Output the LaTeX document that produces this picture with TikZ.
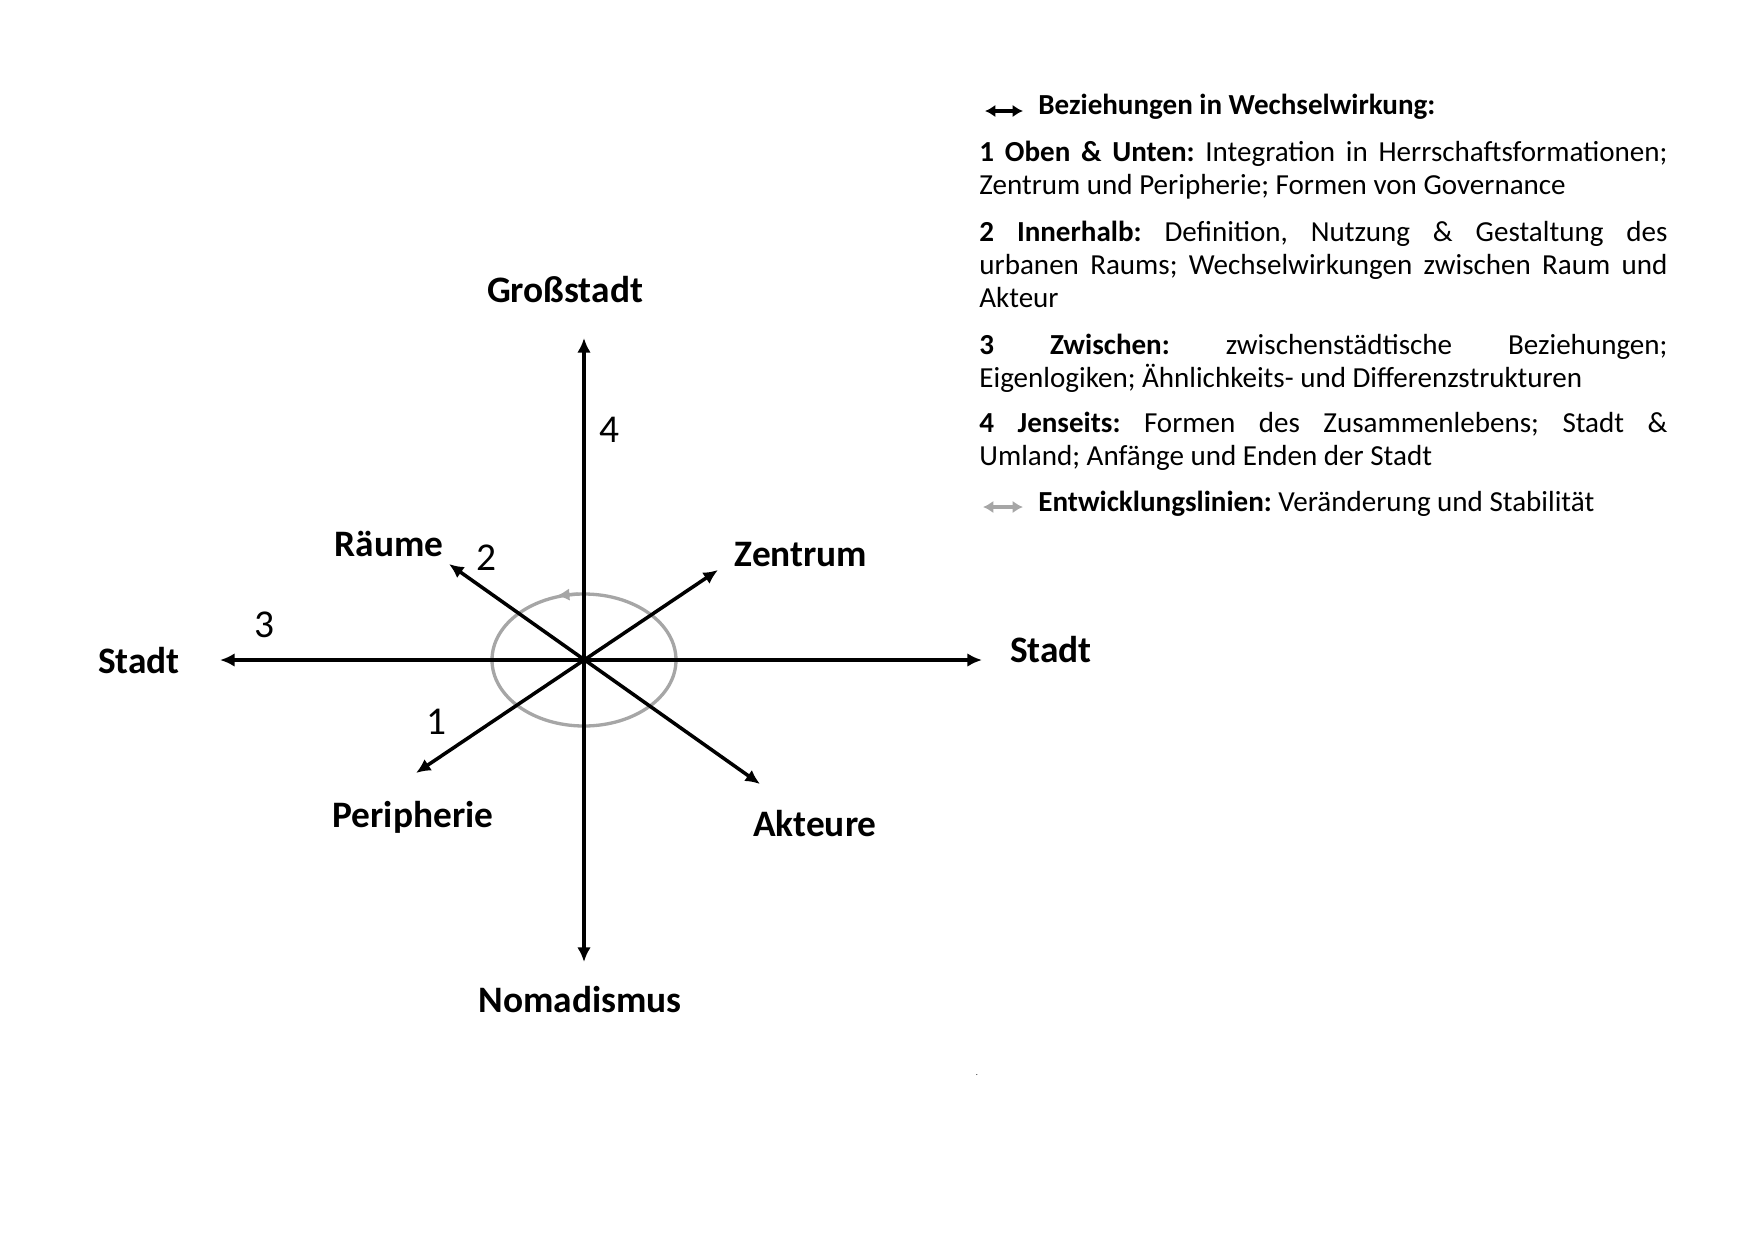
\documentclass[tikz,border=0pt]{standalone}
\usepackage{fontspec}
\setmainfont{Carlito}
\usetikzlibrary{arrows.meta}
\frenchspacing

\begin{document}
\begin{tikzpicture}[x=0.16933mm, y=-0.16933mm,
    >={Latex[length=7pt,width=6.5pt]},
    axis/.style={<->, line width=1.7pt},
    ring/.style={draw=black!35, line width=1.6pt},
    lbl/.style={anchor=base, inner sep=0pt, font=\fontsize{18}{22}\selectfont\bfseries},
    num/.style={anchor=base, inner sep=0pt, font=\fontsize{19}{23}\selectfont},
    head/.style={anchor=base west, inner sep=0pt, font=\fontsize{14}{16.1}\selectfont},
    para/.style={anchor=base west, inner sep=0pt, text width=331.5pt, align=justify,
        font=\fontsize{14}{16.1}\selectfont},
    keyarr/.style={<->, >={Latex[length=5pt,width=6pt]}, line width=1.6pt}]
    \useasboundingbox (0,0) rectangle (1754,1240);

    % 1. Tâm và đầu mút các trục
    \coordinate (o) at (584,660);
    \coordinate (top) at (584,338);
    \coordinate (bot) at (584,962);
    \coordinate (lft) at (220,660);
    \coordinate (rgt) at (982,660);
    \coordinate (nw) at (449,564);
    \coordinate (se) at (760,784);
    \coordinate (ne) at (718,570);
    \coordinate (sw) at (416,773);

    % 2. Vòng elip xám
    \draw[ring] (o) ellipse [x radius=92, y radius=66];
    \draw[ring, ->, >={Latex[length=6pt,width=6pt]}] (578,594) -- (557,595.5);

    % 3. Các trục hai chiều
    \draw[axis] (top) -- (bot);
    \draw[axis] (lft) -- (rgt);
    \draw[axis] (nw) -- (se);
    \draw[axis] (ne) -- (sw);

    % 4. Nhãn các trục
    \node[lbl] (gross) at (565,302) {Großstadt};
    \node[lbl] (noma) at (580,1012) {Nomadismus};
    \node[lbl] (stadtl) at (139,673) {Stadt};
    \node[lbl] (stadtr) at (1051,662) {Stadt};
    \node[lbl] (raeume) at (389,556) {Räume};
    \node[lbl] (zentrum) at (801,566) {Zentrum};
    \node[lbl] (peri) at (413,827) {Peripherie};
    \node[lbl] (akteure) at (815,836) {Akteure};

    % Số thứ tự
    \node[num] (n4) at (609,442) {4};
    \node[num] (n2) at (486,570) {2};
    \node[num] (n3) at (264,637) {3};
    \node[num] (n1) at (436,734) {1};

    % 5. Chú thích
    \coordinate (k1) at (985,111);
    \coordinate (k2) at (1023,111);
    \draw[keyarr] (k1) -- (k2);
    \node[head] (hd) at (1038,114) {\textbf{Beziehungen in Wechselwirkung:}};

    \node[para] (p1) at (979,161) {\textbf{1 Oben \& Unten:} Integration in Herrschaftsformationen;\linebreak
        Zentrum und Peripherie; Formen von Governance};
    \node[para] (p2) at (979,241) {\textbf{2 Innerhalb:} Definition, Nutzung \& Gestaltung des\linebreak
        urbanen Raums; Wechselwirkungen zwischen Raum und\linebreak Akteur};
    \node[para] (p3) at (979,354) {\textbf{3 Zwischen:} zwischenstädtische Beziehungen;\linebreak
        Eigenlogiken; Ähnlichkeits- und Differenzstrukturen};
    \node[para] (p4) at (979,432) {\textbf{4 Jenseits:} Formen des Zusammenlebens; Stadt \&\linebreak
        Umland; Anfänge und Enden der Stadt};

    \coordinate (g1) at (983,507);
    \coordinate (g2) at (1023,507);
    \draw[keyarr, draw=black!35] (g1) -- (g2);
    \node[head] (ent) at (1038,511) {\textbf{Entwicklungslinien:} Veränderung und Stabilität};

    % Dấu chấm nhỏ
    \node[anchor=base, inner sep=0pt, font=\fontsize{4}{5}\selectfont] (pt) at (977,1075) {.};
\end{tikzpicture}
\end{document}
